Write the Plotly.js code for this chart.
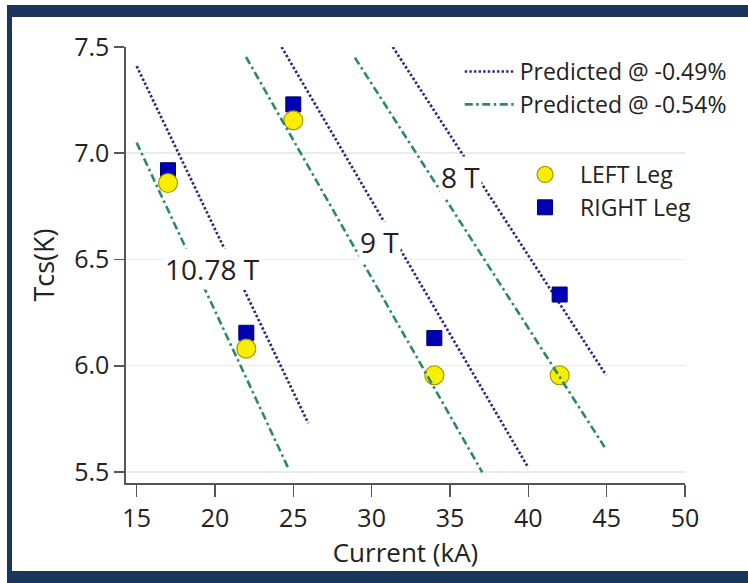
<!DOCTYPE html>
<html>
<head>
<meta charset="utf-8">
<script src="https://cdn.plot.ly/plotly-3.0.1.min.js"></script>
<style>
  html, body { margin: 0; padding: 0; background: #ffffff; }
  #wrap { position: relative; width: 748px; height: 583px; overflow: hidden; }
  #chart { position: absolute; left: 0; top: 0; width: 748px; height: 583px; }
  .band { position: absolute; background: #1b365d; pointer-events: none; }
</style>
</head>
<body>
<div id="wrap">
  <div id="chart"></div>
  <div class="band" style="left:7px; top:5px; width:741px; height:12px;"></div>
  <div class="band" style="left:7px; top:5px; width:5px; height:578px;"></div>
  <div class="band" style="left:7px; top:571px; width:741px; height:12px;"></div>
</div>
<script>
// Measured points (current in kA, Tcs in K)
const current = [17, 22, 25, 34, 42];
const leftLeg = [6.86, 6.08, 7.155, 5.955, 5.955];
const rightLeg = [6.92, 6.155, 7.23, 6.13, 6.335];

// Predicted lines, one segment per field (10.78 T, 9 T, 8 T), separated by null
const pred049X = [15.0, 25.95, null, 24.25, 40.0, null, 31.35, 44.96];
const pred049Y = [7.41, 5.73, null, 7.5, 5.52, null, 7.5, 5.956];
const pred054X = [15.0, 24.68, null, 21.98, 37.06, null, 28.93, 44.87];
const pred054Y = [7.05, 5.517, null, 7.453, 5.498, null, 7.45, 5.617];

// Field labels
const fieldLabels = ['10.78 T', '9 T', '8 T'];
const labelX = [19.87, 30.47, 35.7];
const labelY = [6.456, 6.583, 6.889];

const xTicks = [15, 20, 25, 30, 35, 40, 45, 50];
const yTicks = [5.5, 6.0, 6.5, 7.0, 7.5];

const FONT = '"Open Sans", "Liberation Sans", Arial, sans-serif';
const TXT = '#222222';

const traces = [
  {
    name: 'Predicted @ -0.49%', x: pred049X, y: pred049Y, mode: 'lines',
    line: { color: '#2e2e80', width: 2.7, dash: '2.5px,2.1px' },
    connectgaps: false, legend: 'legend', hoverinfo: 'skip'
  },
  {
    name: 'RIGHT Leg', x: current, y: rightLeg, mode: 'markers',
    marker: { symbol: 'square', size: 15, color: '#0000b4', line: { color: '#00006e', width: 1 } },
    legend: 'legend2'
  },
  {
    name: 'LEFT Leg', x: current, y: leftLeg, mode: 'markers',
    marker: { symbol: 'circle', size: 19, color: '#f8ef00', line: { color: '#a89600', width: 1.2 } },
    legend: 'legend2'
  },
  {
    name: 'Predicted @ -0.54%', x: pred054X, y: pred054Y, mode: 'lines',
    line: { color: '#2a8a66', width: 2.6, dash: '8px,3.5px,2.5px,3.5px' },
    connectgaps: false, legend: 'legend', hoverinfo: 'skip'
  }
];

const annotations = fieldLabels.map((t, i) => ({
  text: t, x: labelX[i], y: labelY[i], xref: 'x', yref: 'y',
  showarrow: false, bgcolor: '#ffffff', borderpad: 1,
  font: { family: FONT, size: 28, color: TXT }
}));

const layout = {
  width: 748, height: 583,
  margin: { l: 126, r: 63, t: 47, b: 100 },
  paper_bgcolor: '#ffffff', plot_bgcolor: '#ffffff',
  font: { family: FONT, color: TXT },
  showlegend: true,
  xaxis: {
    range: [14.32, 50], tickvals: xTicks, ticktext: xTicks.map(String),
    showgrid: false, zeroline: false,
    showline: true, linecolor: '#555555', linewidth: 1.6,
    ticks: 'outside', ticklen: 12, tickwidth: 1.6, tickcolor: '#555555',
    tickfont: { family: FONT, size: 25, color: TXT },
    title: { text: 'Current (kA)', font: { family: FONT, size: 26, color: TXT }, standoff: 8 }
  },
  yaxis: {
    range: [5.448, 7.5], tickvals: yTicks, ticktext: yTicks.map(v => v.toFixed(1)),
    showgrid: true, gridcolor: '#ebebeb', gridwidth: 1.5, zeroline: false,
    showline: true, linecolor: '#555555', linewidth: 1.6,
    ticks: 'outside', ticklen: 10, tickwidth: 1.6, tickcolor: '#555555',
    tickfont: { family: FONT, size: 25, color: TXT },
    title: { text: 'Tcs(K)', font: { family: FONT, size: 27, color: TXT }, standoff: 12 }
  },
  legend: {
    x: 0.597, y: 0.993, xanchor: 'left', yanchor: 'top',
    bgcolor: 'rgba(0,0,0,0)', borderwidth: 0, itemwidth: 50,
    traceorder: 'normal',
    font: { family: FONT, size: 23, color: TXT }
  },
  legend2: {
    x: 0.687, y: 0.757, xanchor: 'left', yanchor: 'top',
    bgcolor: 'rgba(0,0,0,0)', borderwidth: 0, itemwidth: 60,
    traceorder: 'reversed',
    font: { family: FONT, size: 23, color: TXT }
  },
  annotations: annotations
};

Plotly.newPlot('chart', traces, layout, { staticPlot: true, displayModeBar: false });
</script>
</body>
</html>
